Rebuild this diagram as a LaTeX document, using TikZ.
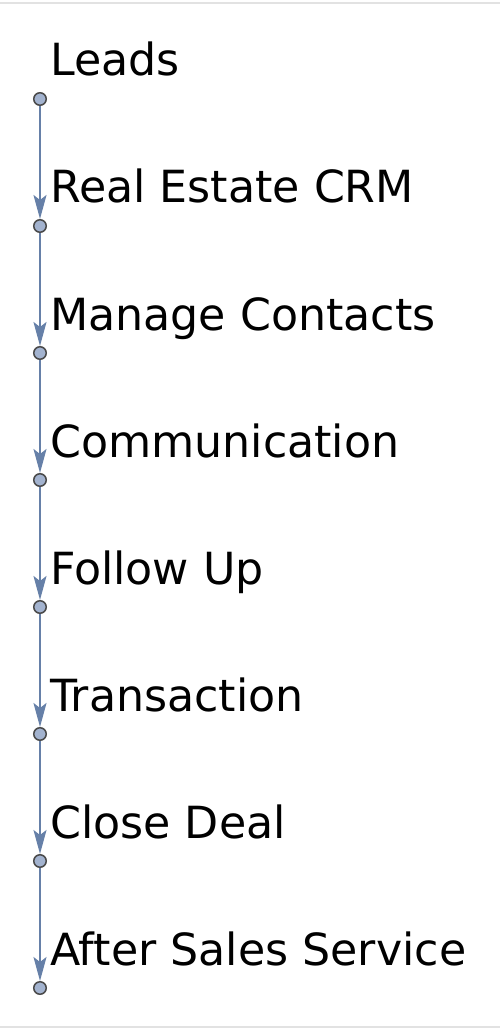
\documentclass[tikz,border=0pt]{standalone}
\usepackage{fontspec}
\setmainfont{DejaVu Sans}
\usepackage{xcolor}
\usetikzlibrary{positioning,arrows.meta}
\definecolor{dotfill}{HTML}{A3B3CF}
\definecolor{dotedge}{HTML}{4A4A4A}
\definecolor{flow}{HTML}{6680A8}
\definecolor{rule}{HTML}{E2E2E2}

\begin{document}
\begin{tikzpicture}[x=1pt, y=-1pt, node distance=127pt, on grid,
  dot/.style={circle, draw=dotedge, fill=dotfill, line width=1.5pt, minimum size=12.5pt, inner sep=0pt},
  lbl/.style={anchor=base west, inner sep=0pt, font=\fontsize{44.3}{52}\selectfont},
  arr/.style={-{Stealth[length=24pt, width=13pt, inset=5pt]}, line width=2pt, flow}]
\useasboundingbox (0,0) rectangle (500,1032);
\draw[rule, line width=2pt] (0,3) -- (500,3);
\draw[rule, line width=2pt] (0,1027) -- (500,1027);

\node[dot] (leads) at (40,99) {};
\node[dot, below=of leads] (crm) {};
\node[dot, below=of crm] (contacts) {};
\node[dot, below=of contacts] (comm) {};
\node[dot, below=of comm] (follow) {};
\node[dot, below=of follow] (trans) {};
\node[dot, below=of trans] (close) {};
\node[dot, below=of close] (after) {};

\node[lbl] (t-leads) at ([xshift=10pt, yshift=23pt]leads.center) {Leads};
\node[lbl] (t-crm) at ([xshift=10pt, yshift=23pt]crm.center) {Real Estate CRM};
\node[lbl] (t-contacts) at ([xshift=10pt, yshift=23pt]contacts.center) {Manage Contacts};
\node[lbl] (t-comm) at ([xshift=10pt, yshift=23pt]comm.center) {Communication};
\node[lbl] (t-follow) at ([xshift=10pt, yshift=23pt]follow.center) {Follow Up};
\node[lbl] (t-trans) at ([xshift=10pt, yshift=23pt]trans.center) {Transaction};
\node[lbl] (t-close) at ([xshift=10pt, yshift=23pt]close.center) {Close Deal};
\node[lbl] (t-after) at ([xshift=10pt, yshift=23pt]after.center) {After Sales Service};

\draw[arr] (leads) -- (crm); \draw[arr] (crm) -- (contacts); \draw[arr] (contacts) -- (comm);
\draw[arr] (comm) -- (follow); \draw[arr] (follow) -- (trans); \draw[arr] (trans) -- (close);
\draw[arr] (close) -- (after);
\end{tikzpicture}
\end{document}
